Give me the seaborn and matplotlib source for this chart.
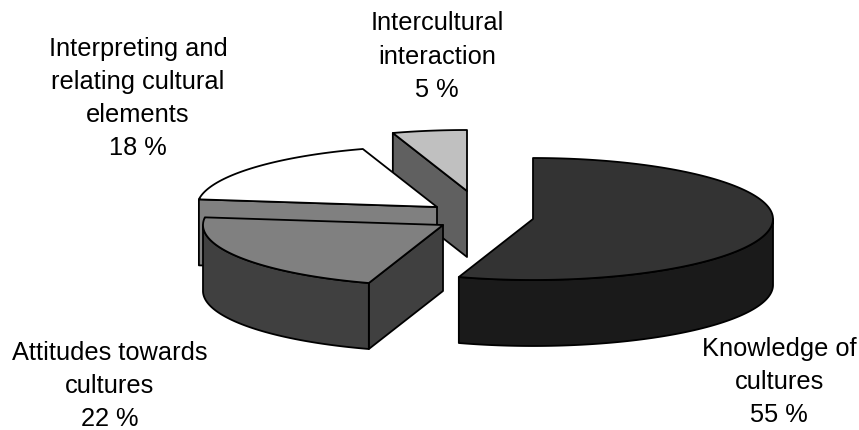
import numpy as np
import matplotlib
matplotlib.use("Agg")
import matplotlib.pyplot as plt
import seaborn as sns

# Survey shares, clockwise from twelve o'clock
categories = ["Knowledge of\ncultures", "Attitudes towards\ncultures",
              "Interpreting and\nrelating cultural\nelements", "Intercultural\ninteraction"]
shares = [55, 22, 18, 5]

# Greys per slice: top face, curved rim, cut face
top_colors = ["#333333", "#808080", "#ffffff", "#c0c0c0"]
rim_colors = ["#1a1a1a", "#404040", "#808080", "#606060"]
cut_colors = ["#1a1a1a", "#404040", "#808080", "#606060"]

# Projection of the tilted pie, in figure pixels
RX, RY, DEPTH = 240, 61, 66
apexes = [(533, 219), (443, 225), (437, 207), (467, 191)]
label_pos = [(779, 382), (110, 386), (138, 98.5), (437, 56.5)]
LW = 1.3

sns.set_theme(style="white", rc={"font.family": ["Liberation Sans", "DejaVu Sans"]})
fig, ax = plt.subplots(figsize=(8.59, 4.30), dpi=100)
ax.set_position([0, 0, 1, 1])
ax.set_xlim(0, 859)
ax.set_ylim(430, 0)
ax.axis("off")


def rim_xy(apex, deg):
    a = np.radians(deg)
    return apex[0] + RX * np.sin(a), apex[1] - RY * np.cos(a)


def face(xs, ys, color, z):
    ax.fill(xs, ys, facecolor=color, edgecolor="black", linewidth=LW, joinstyle="round", zorder=z)


edges = np.concatenate([[0], np.cumsum(shares) * 3.6])
# Back slices first, so nearer ones overlap them
paint_order = [3, 2, 1, 0]
for z, i in enumerate(paint_order):
    start, end = edges[i], edges[i + 1]
    apex = apexes[i]
    arc_x, arc_y = rim_xy(apex, np.linspace(start, end, 160))

    # Cut face along the leading radius, where it looks toward the viewer
    if i != 0:
        px, py = rim_xy(apex, start)
        face([apex[0], px, px, apex[0]],
             [apex[1], py, py + DEPTH, apex[1] + DEPTH], cut_colors[i], 3 * z)

    # Curved rim for the part of the arc on the near side of the pie
    lo, hi = max(start, 90), min(end, 270)
    if hi > lo and i in (0, 1):
        nx, ny = rim_xy(apex, np.linspace(lo, hi, 160))
        face(np.r_[nx, nx[::-1]], np.r_[ny, ny[::-1] + DEPTH], rim_colors[i], 3 * z + 1)

    # Top face
    face(np.r_[apex[0], arc_x], np.r_[apex[1], arc_y], top_colors[i], 3 * z + 2)

for name, share, (x, y) in zip(categories, shares, label_pos):
    ax.text(x, y, f"{name}\n{share} %", ha="center", va="center", fontsize=18.3,
            color="black", linespacing=1.48, zorder=20)

sns.despine(ax=ax, left=True, bottom=True)
fig.savefig("out.png", dpi=100, facecolor="white")
